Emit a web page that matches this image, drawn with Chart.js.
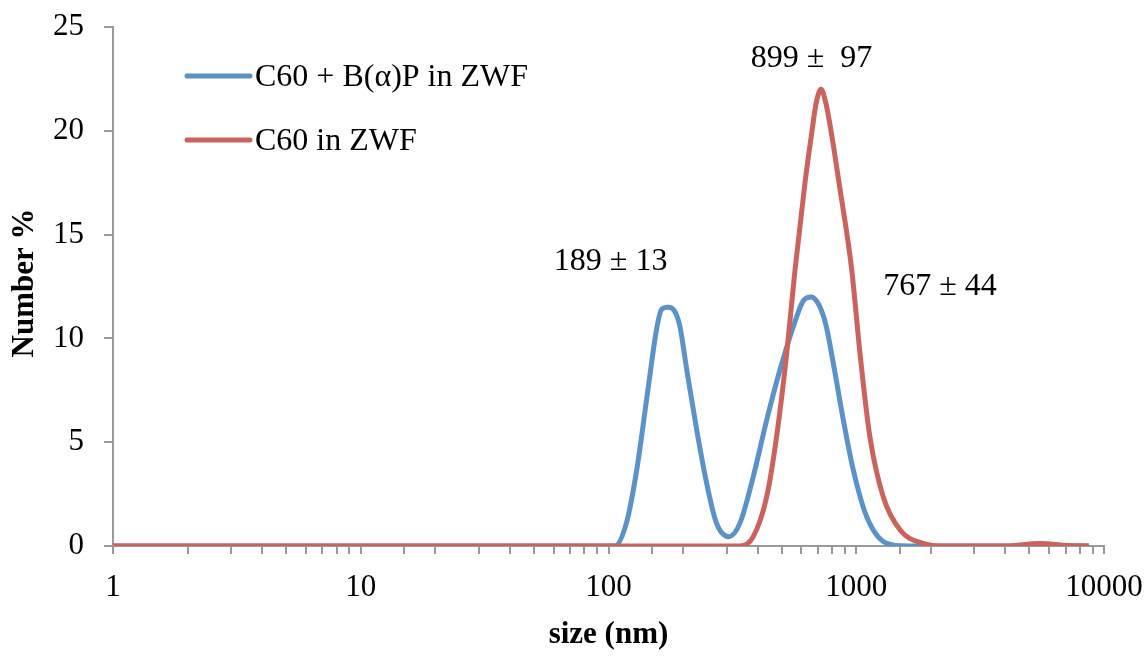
<!DOCTYPE html>
<html>
<head>
<meta charset="utf-8">
<title>Size distribution</title>
<script src="https://cdn.jsdelivr.net/npm/chart.js@4/dist/chart.umd.min.js"></script>
<style>
  body { margin: 0; background: #fff; }
  #wrap { width: 1148px; height: 656px; }
</style>
</head>
<body>
<div id="wrap"><canvas id="sizeChart" width="1148" height="656"></canvas></div>
<script>
// ========================================
// DATA
// ========================================

// C60 + B(a)P in ZWF
const blueSize = [1, 100, 106, 118, 130, 143, 157, 164, 174, 184, 194, 207, 227, 249, 273, 306, 339, 384, 435, 492, 557, 610, 658, 708, 756, 808, 887, 973, 1102, 1327, 1600, 8700];
const blueNumber = [0, 0, 0, 1.09, 3.66, 7.19, 10.56, 11.4, 11.5, 11.35, 10.6, 8.48, 5.59, 3.02, 1.09, 0.45, 1.09, 3.34, 6.07, 8.48, 10.56, 11.8, 12.0, 11.6, 10.6, 8.8, 6.07, 3.66, 1.41, 0.13, 0, 0];

// C60 in ZWF
const redSize = [1, 339, 384, 435, 477, 524, 566, 621, 663, 688, 721, 755, 791, 852, 959, 1035, 1135, 1285, 1503, 1861, 2282, 4000, 5500, 7000, 8700];
const redNumber = [0, 0, 0.45, 2.37, 5.27, 9.28, 13.3, 17.5, 20.0, 21.3, 22.0, 21.3, 20.0, 17.5, 13.3, 9.3, 5.27, 2.37, 0.77, 0.13, 0, 0, 0.12, 0.03, 0];

const seriesLabels = ['C60 + B(\u03b1)P in ZWF', 'C60 in ZWF'];
const seriesColors = ['#5b92ca', '#cc625c'];

// peak annotations (centre of each text, in data units)
const peakTexts = ['189 \u00b1 13', '899 \u00b1  97', '767 \u00b1 44'];
const peakSize = [102, 660, 2178];
const peakNumber = [13.7, 23.5, 12.5];

const xTitle = 'size (nm)';
const yTitle = 'Number %';

const FONT = '"Liberation Serif", "Times New Roman", serif';
const AXIS_GREY = '#9a9a9a';

function toPoints(xs, ys) {
    return xs.map((x, i) => ({ x: x, y: ys[i] }));
}

// keep the plot area where the layout padding puts it
function noLabelPadding(scale) {
    scale.paddingTop = 0;
    scale.paddingBottom = 0;
    scale.paddingLeft = 0;
    scale.paddingRight = 0;
}

// ========================================
// LEGEND, TITLES, LABELS
// ========================================
const extrasPlugin = {
    id: 'extras',
    afterDraw(chart) {
        const ctx = chart.ctx;
        const xs = chart.scales.x;
        const ys = chart.scales.y;
        ctx.save();

        // legend
        const legendY = [76, 140];
        seriesLabels.forEach((label, i) => {
            ctx.strokeStyle = seriesColors[i];
            ctx.lineWidth = 5;
            ctx.lineCap = 'round';
            ctx.beginPath();
            ctx.moveTo(187, legendY[i]);
            ctx.lineTo(250, legendY[i]);
            ctx.stroke();
            ctx.fillStyle = '#000';
            ctx.font = '32px ' + FONT;
            ctx.textAlign = 'left';
            ctx.textBaseline = 'middle';
            ctx.fillText(label, 255, legendY[i] + 2);
        });

        // peak labels
        ctx.font = '32px ' + FONT;
        ctx.textAlign = 'center';
        ctx.textBaseline = 'middle';
        peakTexts.forEach((t, i) => {
            ctx.fillText(t, xs.getPixelForValue(peakSize[i]), ys.getPixelForValue(peakNumber[i]));
        });

        // axis titles
        ctx.font = 'bold 31px ' + FONT;
        ctx.fillText(xTitle, (chart.chartArea.left + chart.chartArea.right) / 2, 635);
        ctx.translate(25, 283);
        ctx.rotate(-Math.PI / 2);
        ctx.fillText(yTitle, 0, 0);

        ctx.restore();
    }
};

// ========================================
// CHART
// ========================================
const ctx = document.getElementById('sizeChart').getContext('2d');

new Chart(ctx, {
    type: 'scatter',
    data: {
        datasets: [
            {
                label: seriesLabels[0],
                data: toPoints(blueSize, blueNumber),
                borderColor: seriesColors[0],
                borderWidth: 5,
                showLine: true,
                pointRadius: 0,
                cubicInterpolationMode: 'monotone',
                order: 1
            },
            {
                label: seriesLabels[1],
                data: toPoints(redSize, redNumber),
                borderColor: seriesColors[1],
                borderWidth: 5,
                showLine: true,
                pointRadius: 0,
                cubicInterpolationMode: 'monotone',
                order: 0
            }
        ]
    },
    options: {
        responsive: false,
        animation: false,
        layout: {
            padding: { top: 27, right: 44, left: 0, bottom: 0 }
        },
        plugins: {
            legend: { display: false },
            tooltip: { enabled: false }
        },
        scales: {
            x: {
                type: 'logarithmic',
                min: 1,
                max: 10000,
                afterFit: function(scale) {
                    scale.height = 110;
                    noLabelPadding(scale);
                },
                grid: {
                    drawOnChartArea: false,
                    color: AXIS_GREY,
                    tickLength: 8,
                    lineWidth: 2
                },
                border: { color: AXIS_GREY, width: 2 },
                ticks: {
                    autoSkip: false,
                    maxRotation: 0,
                    padding: 15,
                    color: '#000',
                    font: { family: FONT, size: 31 },
                    callback: function(value) {
                        const l = Math.log10(value);
                        return Math.abs(l - Math.round(l)) < 1e-9 ? String(value) : '';
                    }
                }
            },
            y: {
                min: 0,
                max: 25,
                afterFit: function(scale) {
                    scale.width = 113;
                    noLabelPadding(scale);
                },
                grid: {
                    drawOnChartArea: false,
                    color: AXIS_GREY,
                    tickLength: 9,
                    lineWidth: 2
                },
                border: { color: AXIS_GREY, width: 2 },
                ticks: {
                    stepSize: 5,
                    padding: 20,
                    color: '#000',
                    font: { family: FONT, size: 31 }
                }
            }
        }
    },
    plugins: [extrasPlugin]
});
</script>
</body>
</html>
